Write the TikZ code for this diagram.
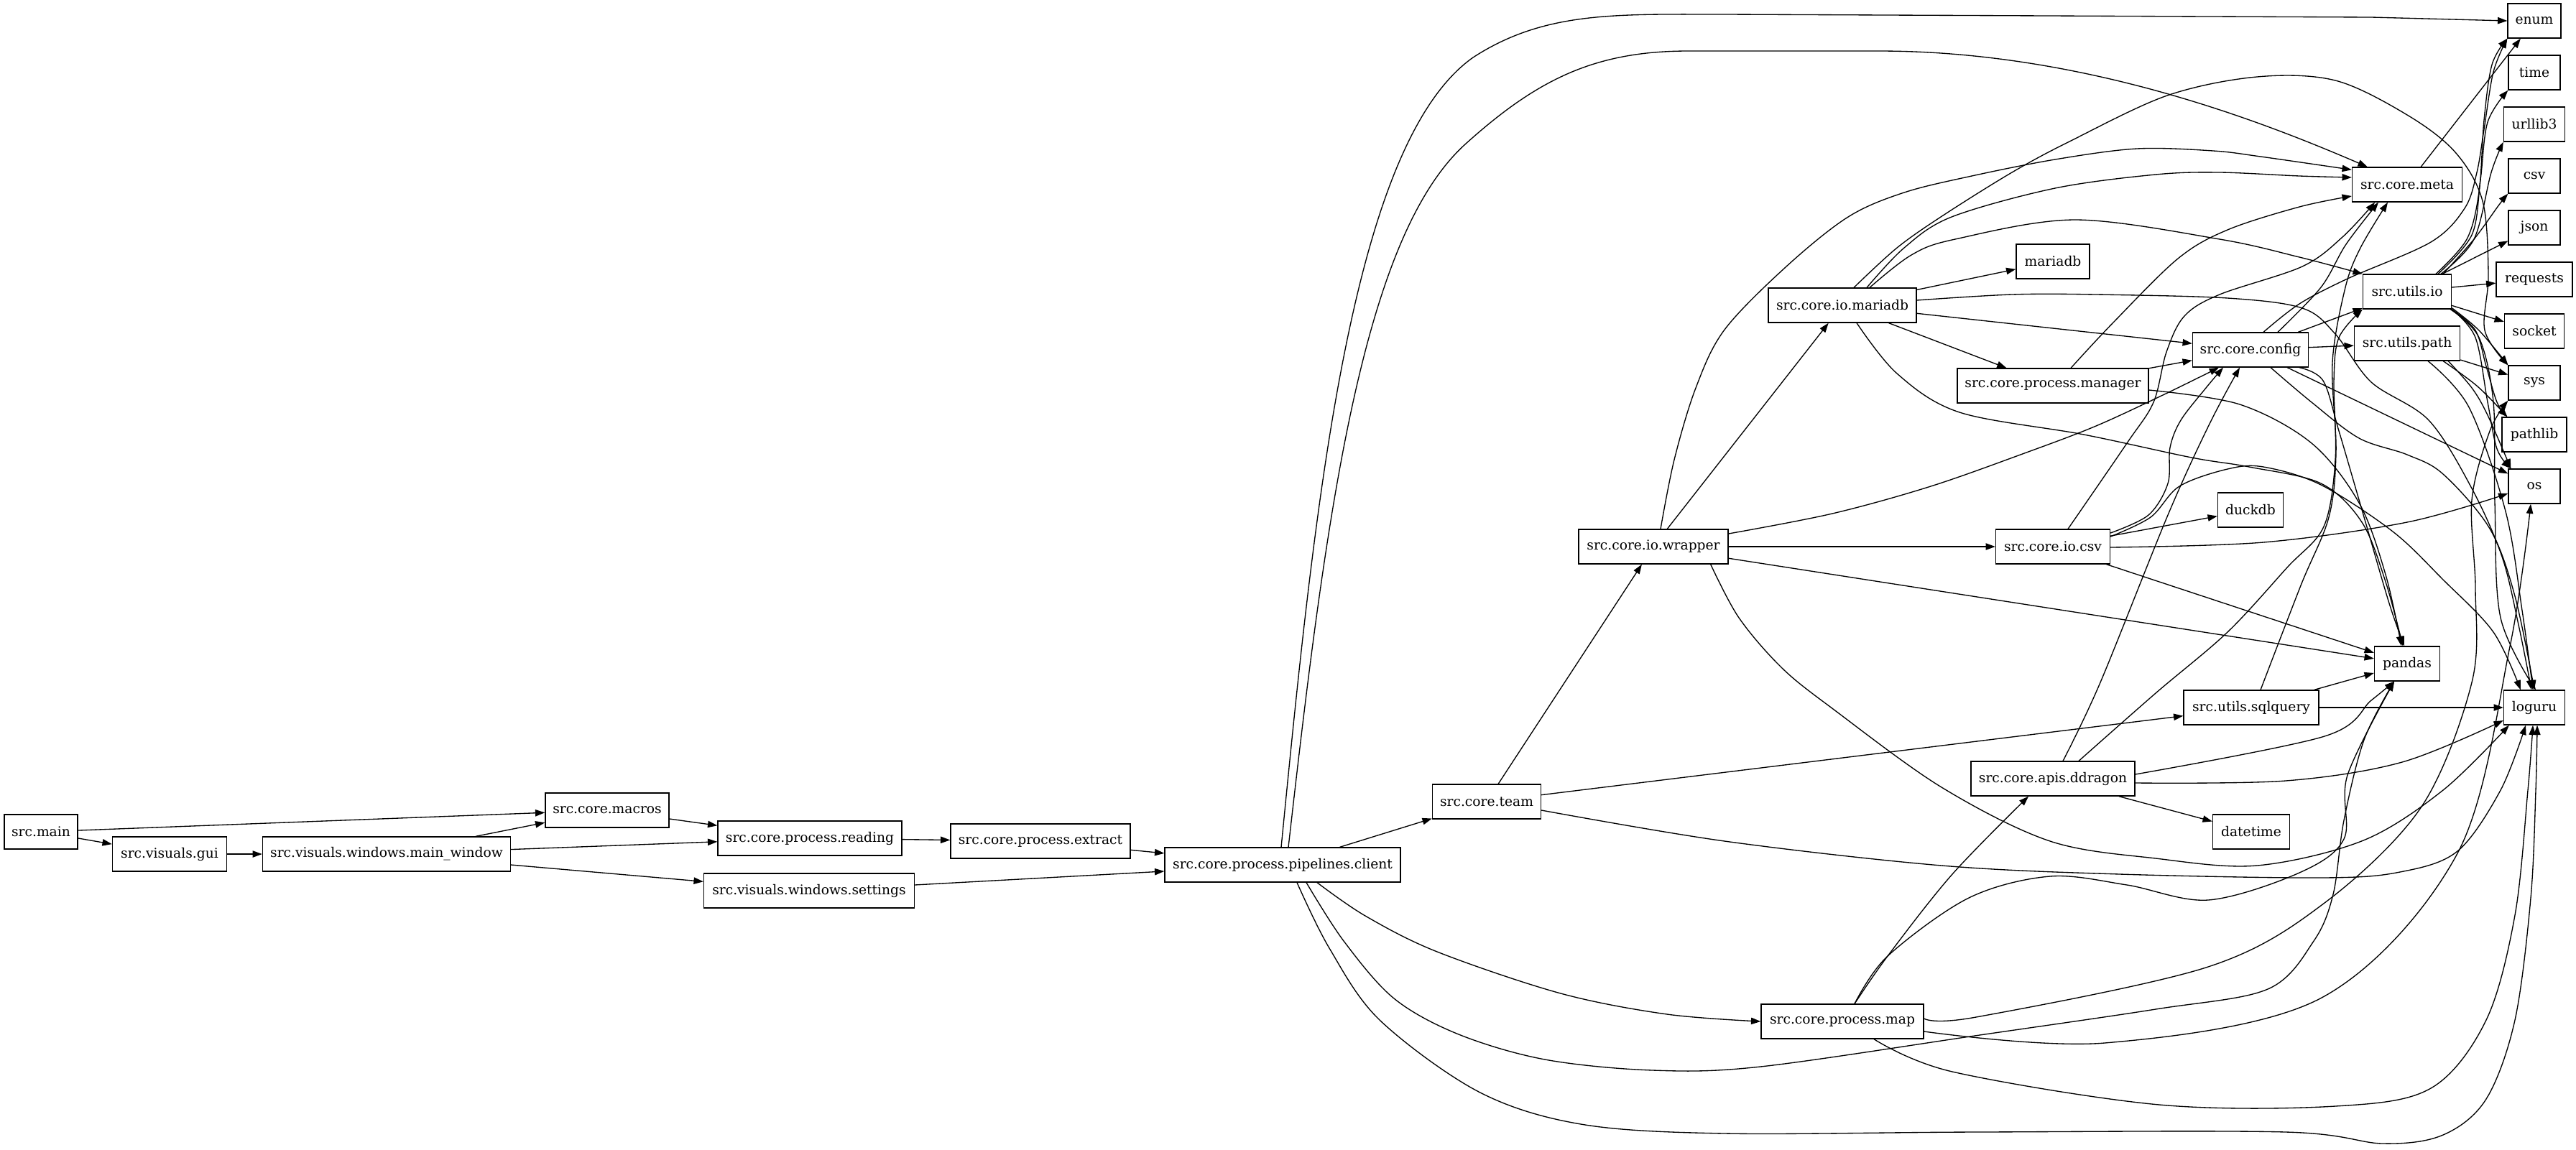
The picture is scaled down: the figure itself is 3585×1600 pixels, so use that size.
\documentclass[tikz,border=0pt]{standalone}
\usepackage{fontspec}
\setmainfont{DejaVu Serif}
\usetikzlibrary{arrows.meta,calc}
\begin{document}
\begin{tikzpicture}[x=0.75pt,y=-0.75pt,
 box/.style={draw,line width=1pt,minimum height=36pt,inner sep=0pt,font=\fontsize{14}{17}\selectfont},
 bw/.style={minimum width={#1*0.75pt}},
 edge/.style={line width=1pt,-{Triangle[length=10pt,width=7pt]}},
 sm/.style={smooth,tension=0.55}]
\useasboundingbox (0,0) rectangle (3585,1600);
% nodes
\node[box,bw=102] (main) at (57,1158) {src.main};
\node[box,bw=159] (gui) at (236,1189) {src.visuals.gui};
\node[box,bw=345] (mainwin) at (538,1189) {src.visuals.windows.main\_window};
\node[box,bw=172] (macros) at (845,1128) {src.core.macros};
\node[box,bw=256] (reading) at (1127,1167) {src.core.process.reading};
\node[box,bw=250] (extract) at (1448,1171) {src.core.process.extract};
\node[box,bw=293] (settings) at (1126,1240) {src.visuals.windows.settings};
\node[box,bw=328] (client) at (1785,1204) {src.core.process.pipelines.client};
\node[box,bw=151] (team) at (2069,1116) {src.core.team};
\node[box,bw=208] (wrapper) at (2301,761) {src.core.io.wrapper};
\node[box,bw=206] (iomariadb) at (2564,425) {src.core.io.mariadb};
\node[box,bw=226] (maproc) at (2564,1422) {src.core.process.map};
\node[box,bw=102] (mariadb) at (2857,364) {mariadb};
\node[box,bw=266] (manager) at (2857,537) {src.core.process.manager};
\node[box,bw=159] (iocsv) at (2857,761) {src.core.io.csv};
\node[box,bw=228] (ddragon) at (2857,1084) {src.core.apis.ddragon};
\node[box,bw=161] (config) at (3132,487) {src.core.config};
\node[box,bw=91] (duckdb) at (3132,710) {duckdb};
\node[box,bw=188] (sqlquery) at (3133,985) {src.utils.sqlquery};
\node[box,bw=107] (datetime) at (3133,1158) {datetime};
\node[box,bw=153] (meta) at (3350,257) {src.core.meta};
\node[box,bw=123] (utilsio) at (3350,406) {src.utils.io};
\node[box,bw=147] (utilspath) at (3350,478) {src.utils.path};
\node[box,bw=91] (pandas) at (3350,924) {pandas};
\node[box,bw=74] (enum) at (3527,29) {enum};
\node[box,bw=72] (time) at (3527,101) {time};
\node[box,bw=85] (urllib3) at (3527,173) {urllib3};
\node[box,bw=72] (csv) at (3527,245) {csv};
\node[box,bw=72] (json) at (3527,317) {json};
\node[box,bw=106] (requests) at (3527,389) {requests};
\node[box,bw=83] (socket) at (3527,461) {socket};
\node[box,bw=72] (sys) at (3527,533) {sys};
\node[box,bw=90] (pathlib) at (3527,605) {pathlib};
\node[box,bw=72] (os) at (3527,677) {os};
\node[box,bw=85] (loguru) at (3527,985) {loguru};
% left chain
\draw[edge] (main) -- (macros);
\draw[edge] (main) -- (gui);
\draw[edge] (gui) -- (mainwin);
\draw[edge] (mainwin) -- (macros);
\draw[edge] (mainwin) -- (reading);
\draw[edge] (mainwin) -- (settings);
\draw[edge] (macros) -- (reading);
\draw[edge] (reading) -- (extract);
\draw[edge] (extract) -- (client);
\draw[edge] (settings) -- (client);
\draw[edge] (client) -- (team);
% client
\draw[edge] ($(client.north)+(-2,0)$) .. controls (1830,700) and (1880,200) .. (2050,80) .. controls (2150,15) and (2250,20) .. (2400,20) -- (3300,24) -- (enum.west);
\draw[edge] ($(client.north)+(8,0)$) .. controls (1845,720) and (1895,330) .. (2040,200) .. controls (2140,110) and (2220,71) .. (2350,71) -- (2614,71) .. controls (2900,71) and (3150,170) .. ($(meta.north west)+(22,0)$);
\draw[edge] plot[sm] coordinates {($(client.south)+(48,0)$) (1900,1275) (2000,1325) (2172,1383) (2320,1412) (maproc.west)};
\draw[edge] plot[sm] coordinates {($(client.south)+(33,0)$) (1870,1310) (1940,1390) (2030,1440) (2150,1475) (2300,1490) (2450,1485) (2755,1441) (3000,1405) (3156,1377) (3220,1310) (3247,1245) (3262,1142) (3290,1030) ($(pandas.south)+(-18,0)$)};
\draw[edge] plot[sm] coordinates {($(client.south)+(20,0)$) (1850,1320) (1920,1420) (2058,1520) (2200,1565) (2400,1578) (2750,1576) (3181,1576) (3316,1592) (3400,1580) (3460,1530) (3500,1420) (3522,1250) (3529,1100) ($(loguru.south)+(4,0)$)};
% team
\draw[edge] (team) -- (wrapper);
\draw[edge] (team) -- (sqlquery);
\draw[edge] plot[sm] coordinates {($(team.east)+(0,12)$) (2400,1171) (2702,1205) (2950,1217) (3231,1222) (3340,1214) (3420,1185) (3480,1100) ($(loguru.south)+(-12,0)$)};
% wrapper
\draw[edge] (wrapper) -- (iomariadb);
\draw[edge] (wrapper) -- (iocsv);
\draw[edge] (wrapper) -- (pandas);
\draw[edge] plot[sm] coordinates {($(wrapper.east)+(0,-18)$) (2550,715) (2687,677) (2820,630) (2917,593) (3010,550) ($(config.south)+(-44,0)$)};
\draw[edge] plot[sm] coordinates {($(wrapper.north)+(10,0)$) (2330,640) (2360,540) (2400,459) (2486,371) (2572,302) (2650,268) (2744,245) (2860,222) (2974,207) (3080,210) (3146,218) ($(meta.north west)+(0,4)$)};
\draw[edge] plot[sm] coordinates {($(wrapper.south east)+(-25,0)$) (2420,860) (2480,930) (2551,987) (2702,1096) (2853,1171) (3000,1195) (3141,1205) (3289,1170) (3400,1100) ($(loguru.south west)+(8,0)$)};
% io.mariadb
\draw[edge] plot[sm] coordinates {($(iomariadb.north)+(34,0)$) (2650,345) (2716,302) (2860,262) (3000,243) (3089,240) (3200,245) ($(meta.west)+(0,-10)$)};
\draw[edge] plot[sm] coordinates {($(iomariadb.north)+(16,0)$) (2640,345) (2704,300) (2800,240) (2882,196) (3016,133) (3141,107) (3250,112) (3350,160) (3417,212) (3455,280) (3463,383) (3458,460) (sys.north west)};
\draw[edge] plot[sm] coordinates {($(iomariadb.north)+(38,0)$) (2660,355) (2721,333) (2888,306) (3089,333) (3200,358) (utilsio.north west)};
\draw[edge] (iomariadb) -- (mariadb);
\draw[edge] (iomariadb) -- (config);
\draw[edge] (iomariadb) -- (manager);
\draw[edge] plot[sm] coordinates {($(iomariadb.south)+(20,0)$) (2640,520) (2727,574) (2900,605) (3050,637) (3130,650) (3230,673) (3287,727) (3320,810) ($(pandas.north)+(-6,0)$)};
\draw[edge] plot[sm] coordinates {($(iomariadb.east)+(0,-7)$) (2800,410) (2917,410) (3100,415) (3204,429) (3250,465) (3300,532) (3380,585) (3440,680) (3482,775) (3505,870) ($(loguru.north)+(-4,0)$)};
% manager
\draw[edge] (manager) -- (config);
\draw[edge] plot[sm] coordinates {($(manager.north)+(25,0)$) (2940,450) (3031,360) (3100,320) (3200,288) ($(meta.west)+(0,16)$)};
\draw[edge] plot[sm] coordinates {($(manager.east)+(0,6)$) (3117,563) (3217,617) (3283,700) (3320,800) ($(pandas.north)+(-8,0)$)};
% config
\draw[edge] (config) -- (utilsio);
\draw[edge] (config) -- (utilspath);
\draw[edge] (config) -- (os);
\draw[edge] plot[sm] coordinates {($(config.north)+(38,0)$) (3230,400) (3265,340) ($(meta.south)+(-40,0)$)};
\draw[edge] plot[sm] coordinates {($(config.north)+(18,0)$) (3200,423) (3267,388) (3383,337) (3430,290) (3447,240) (3457,180) (3470,100) (enum.south west)};
\draw[edge] plot[sm] coordinates {($(config.south)+(68,0)$) (3233,530) (3255,600) (3290,720) (3325,840) ($(pandas.north)+(-4,0)$)};
\draw[edge] plot[sm] coordinates {($(config.south)+(28,0)$) (3217,560) (3283,610) (3350,633) (3400,660) (3465,736) (3500,830) (loguru.north)};
% io.csv
\draw[edge] plot[sm] coordinates {($(iocsv.east)+(0,-19)$) (2990,717) (3017,673) (3020,623) (3035,585) (3070,540) ($(config.south)+(-38,0)$)};
\draw[edge] plot[sm] coordinates {($(iocsv.north)+(21,0)$) (2960,617) (2997,560) (3015,490) (3040,440) (3089,410) (3204,371) (3260,330) ($(meta.south)+(-45,0)$)};
\draw[edge] (iocsv) -- (duckdb);
\draw[edge] (iocsv) -- (pandas);
\draw[edge] plot[sm] coordinates {($(iocsv.east)+(0,1)$) (3150,755) (3350,727) ($(os.west)+(0,10)$)};
\draw[edge] plot[sm] coordinates {($(iocsv.east)+(0,-14)$) (2993,720) (3033,677) (3100,653) (3150,650) (3230,675) (3330,740) (3400,807) (3470,880) ($(loguru.north west)+(24,0)$)};
% ddragon
\draw[edge] plot[sm] coordinates {($(ddragon.north)+(14,0)$) (2923,950) (3017,717) (3075,590) ($(config.south)+(-15,0)$)};
\draw[edge] plot[sm] coordinates {($(ddragon.north)+(36,0)$) (3000,965) (3100,880) (3183,790) (3234,733) (3250,640) (3248,530) (3255,470) (utilsio.south west)};
\draw[edge] plot[sm] coordinates {($(ddragon.east)+(0,-6)$) (3235,1025) (3300,975) ($(pandas.south)+(-18,0)$)};
\draw[edge] plot[sm] coordinates {($(ddragon.east)+(0,6)$) (3181,1087) (3343,1061) ($(loguru.west)+(0,18)$)};
\draw[edge] (ddragon) -- (datetime);
% sqlquery
\draw[edge] plot[sm] coordinates {($(sqlquery.north)+(13,0)$) (3202,815) (3241,720) (3251,629) (3246,504) (3264,400) (3285,345) ($(meta.south)+(-27,0)$)};
\draw[edge] (sqlquery) -- (pandas);
\draw[edge] (sqlquery) -- (loguru);
% process.map
\draw[edge] plot[sm] coordinates {($(maproc.north)+(17,0)$) (2627,1331) (2717,1217) ($(ddragon.south)+(-34,0)$)};
\draw[edge] plot[sm] coordinates {($(maproc.north)+(17,0)$) (2627,1331) (2740,1250) (2853,1220) (2960,1232) (3073,1253) (3200,1215) (3262,1168) (3267,1079) ($(pandas.south)+(-18,0)$)};
\draw[edge] plot[sm] coordinates {($(maproc.east)+(0,-4)$) (2750,1416) (3073,1346) (3235,1257) (3370,1123) (3440,950) (3445,820) (3440,696) (3465,600) (sys.south west)};
\draw[edge] plot[sm] coordinates {($(maproc.east)+(0,14)$) (2929,1452) (3231,1389) (3420,1188) (3493,900) ($(os.south)+(-5,0)$)};
\draw[edge] plot[sm] coordinates {($(maproc.south)+(44,0)$) (2717,1492) (3005,1538) (3250,1540) (3383,1515) (3460,1420) (3500,1274) (3518,1100) ($(loguru.south)+(-2,0)$)};
% meta
\draw[edge] (meta) -- (enum);
% utils.io
\draw[edge] plot[sm] coordinates {($(utilsio.north)+(40,0)$) (3433,333) (3450,267) (3457,167) (3468,90) (enum.south west)};
\draw[edge] plot[sm] coordinates {($(utilsio.north)+(43,0)$) (3440,327) (3452,250) (3462,170) (time.south west)};
\draw[edge] plot[sm] coordinates {($(utilsio.north)+(47,0)$) (3443,333) (3467,240) (urllib3.south west)};
\draw[edge] plot[sm] coordinates {($(utilsio.north)+(50,0)$) (3443,333) (3478,285) (csv.south west)};
\draw[edge] (utilsio) -- (json);
\draw[edge] (utilsio) -- (requests);
\draw[edge] (utilsio) -- (socket);
\draw[edge] plot[sm] coordinates {($(utilsio.south east)+(0,-2)$) (3450,460) (sys.north west)};
\draw[edge] plot[sm] coordinates {(utilsio.south east) (3445,460) (3460,510) (3475,560) ($(pathlib.north west)+(8,0)$)};
\draw[edge] plot[sm] coordinates {(utilsio.south east) (3445,470) (3462,560) (3475,625) ($(os.north west)+(4,0)$)};
\draw[edge] plot[sm] coordinates {($(utilsio.south east)+(-2,0)$) (3450,470) (3470,560) (3472,700) (3480,860) ($(loguru.north)+(2,0)$)};
% utils.path
\draw[edge] (utilspath) -- (sys);
\draw[edge] plot[sm] coordinates {($(utilspath.south east)+(-24,0)$) (3448,538) ($(pathlib.north west)+(8,0)$)};
\draw[edge] plot[sm] coordinates {($(utilspath.south east)+(-17,0)$) (3440,540) (3462,578) ($(os.north west)+(4,0)$)};
\draw[edge] plot[sm] coordinates {($(utilspath.south)+(29,0)$) (3436,567) (3487,712) (3510,850) ($(loguru.north)+(-2,0)$)};
\end{tikzpicture}
\end{document}
